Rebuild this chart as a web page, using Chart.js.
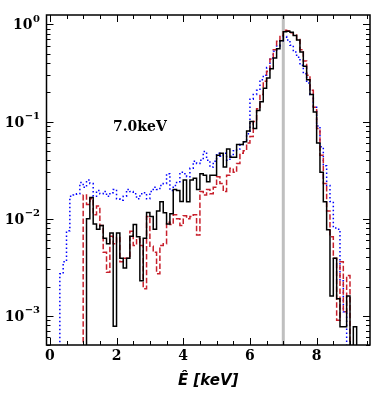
<!DOCTYPE html>
<html><head><meta charset="utf-8">
<script src="https://cdn.jsdelivr.net/npm/chart.js@4.4.0/dist/chart.umd.min.js"></script>
<style>html,body{margin:0;padding:0;background:#fff;}#wrap{width:382px;height:396px;}</style>
</head><body><div id="wrap"><canvas id="c" width="382" height="396"></canvas></div>
<script>
// histogram bins: first bin starts at binStart, each binWidth wide (keV)
const binStart = 0.0;
const binWidth = 0.1;

// black solid histogram, bins 0.0 .. 9.4 keV
const blackVals = [
  0,0,0,0,0,0,0,0,0,0,0,
  0.0100,0.0165,0.0088,0.0078,0.0085,0.0063,0.0055,0.0071,0.00078,
  0.0071,0.0039,0.0031,0.0039,0.0066,0.0087,0.0065,0.0023,0.0063,0.0116,
  0.0105,0.0078,0.0120,0.0149,0.0115,0.0088,0.0112,0.0200,0.0195,0.0150,
  0.0250,0.0149,0.0250,0.0260,0.0200,0.0290,0.0280,0.0240,0.0280,0.0280,
  0.0450,0.0470,0.0340,0.0520,0.0430,0.0430,0.0580,0.0580,0.0620,0.0800,
  0.1000,0.0850,0.1300,0.1600,0.2200,0.2800,0.3500,0.4500,0.5600,0.6800,
  0.8400,0.8500,0.8300,0.7700,0.6900,0.5200,0.3700,0.2700,0.1900,0.1250,
  0.0600,0.0300,0.0149,0.0077,0.0016,0.0039,0.0015,0.00077,0.00077,0.0016,
  0,0.00077,0,0,0
];
// red dashed histogram
const redVals = [
  0,0,0,0,0,0,0,0,0,0,
  0.0175,0.0140,0.0160,0.0110,0.0135,0.0085,0.0045,0.0028,0.0066,0.0055,
  0.0064,0.0036,0.0039,0.0039,0.0074,0.0053,0.0062,0.0053,0.0019,0.0105,
  0.0052,0.0045,0.0027,0.0053,0.0055,0.0092,0.0087,0.0110,0.0100,0.0085,
  0.0107,0.0100,0.0105,0.0110,0.0068,0.0190,0.0175,0.0200,0.0180,0.0210,
  0.0270,0.0230,0.0190,0.0280,0.0330,0.0300,0.0370,0.0470,0.0500,0.0600,
  0.0700,0.1000,0.1350,0.1900,0.2600,0.3300,0.4400,0.5500,0.6700,0.7700,
  0.8700,0.8600,0.8200,0.7800,0.7000,0.5500,0.4200,0.3000,0.2100,0.1400,
  0.0850,0.0450,0.0230,0.0120,0.0065,0.0039,0.0009,0.0036,0.0011,0.0026,
  0,0,0,0,0
];
// blue dotted histogram
const blueVals = [
  0,0,0,
  0.0027,0.0036,0.0075,0.0170,0.0175,0.0180,0.0235,
  0.0210,0.0250,0.0230,0.0170,0.0195,0.0180,0.0190,0.0170,0.0185,0.0200,
  0.0160,0.0155,0.0170,0.0200,0.0190,0.0180,0.0160,0.0180,0.0185,0.0160,
  0.0190,0.0210,0.0200,0.0220,0.0230,0.0290,0.0195,0.0220,0.0240,0.0300,
  0.0290,0.0270,0.0330,0.0390,0.0370,0.0400,0.0490,0.0400,0.0340,0.0390,
  0.0470,0.0440,0.0470,0.0400,0.0440,0.0500,0.0520,0.0580,0.0620,0.0750,
  0.1700,0.1900,0.2100,0.2700,0.3000,0.3600,0.4500,0.5300,0.6000,0.6800,
  0.7500,0.6900,0.6100,0.5200,0.4600,0.3800,0.3100,0.2500,0.1900,0.1400,
  0.0900,0.0550,0.0350,0.0220,0.0150,0.0080,0.0078,0.0023,0.0011,0,
  0,0,0,0,0
];

const xTickValues = [0, 2, 4, 6, 8];
const xTickLabels = ['0', '2', '4', '6', '8'];
const yDecades = [1, 0.1, 0.01, 0.001];
const yExponents = ['0', '\u22121', '\u22122', '\u22123'];
const lineEnergy = 7.0;
const annotationText = '7.0keV';
const annotationAt = {x: 2.7, y: 0.088};
const xTitle = '\u00CA [keV]';

function toSteps(vals) {
  const floor = 1e-7;
  const pts = vals.map((v, i) => ({x: binStart + i * binWidth, y: v > 0 ? v : floor}));
  pts.push({x: binStart + vals.length * binWidth, y: floor});
  return pts;
}

const framePlugin = {
  id: 'frame',
  beforeDatasetsDraw(chart) {
    const {ctx, chartArea: a, scales: {x}} = chart;
    const px = x.getPixelForValue(lineEnergy);
    ctx.save();
    ctx.strokeStyle = '#bfbfbf';
    ctx.lineWidth = 3;
    ctx.beginPath(); ctx.moveTo(px, a.top); ctx.lineTo(px, a.bottom); ctx.stroke();
    ctx.restore();
  },
  afterDatasetsDraw(chart) {
    const {ctx, scales: {x, y}} = chart;
    ctx.save();
    ctx.fillStyle = '#000';
    ctx.font = 'bold 14px "DejaVu Serif"';
    ctx.textAlign = 'center';
    ctx.textBaseline = 'middle';
    ctx.fillText(annotationText, x.getPixelForValue(annotationAt.x), y.getPixelForValue(annotationAt.y));
    ctx.restore();
  },
  afterDraw(chart) {
    const {ctx, chartArea: a, scales: {x, y}} = chart;
    ctx.save();
    ctx.strokeStyle = '#000';
    // ticks
    ctx.lineWidth = 1;
    const majL = 7, minL = 4;
    ctx.beginPath();
    for (let t = 0; t <= 9.5 + 1e-9; t += 0.5) {
      const v = Math.round(t * 10) / 10;
      const px = Math.round(x.getPixelForValue(v)) + 0.5;
      const L = xTickValues.includes(v) ? majL : minL;
      ctx.moveTo(px, a.bottom); ctx.lineTo(px, a.bottom - L);
      ctx.moveTo(px, a.top); ctx.lineTo(px, a.top + L);
    }
    for (let e = -4; e <= 0; e++) {
      for (let m = 1; m <= 9; m++) {
        const v = m * Math.pow(10, e);
        if (v < y.min - 1e-12 || v > y.max) continue;
        const py = Math.round(y.getPixelForValue(v)) + 0.5;
        const L = m === 1 ? majL : minL;
        ctx.moveTo(a.left, py); ctx.lineTo(a.left + L, py);
        ctx.moveTo(a.right, py); ctx.lineTo(a.right - L, py);
      }
    }
    ctx.stroke();
    // frame
    ctx.lineWidth = 1.5;
    ctx.strokeRect(a.left, a.top, a.right - a.left, a.bottom - a.top);
    // y tick labels 10^n
    ctx.fillStyle = '#000';
    ctx.textBaseline = 'alphabetic';
    ctx.textAlign = 'left';
    const rightEdge = a.left - 7;
    yDecades.forEach((v, i) => {
      const py = y.getPixelForValue(v);
      ctx.font = 'bold 14px "DejaVu Serif"';
      const wb = ctx.measureText('10').width;
      ctx.font = 'bold 10px "DejaVu Serif"';
      const we = ctx.measureText(yExponents[i]).width;
      const x0 = rightEdge - wb - we;
      ctx.font = 'bold 14px "DejaVu Serif"';
      ctx.fillText('10', x0, py + 5);
      ctx.font = 'bold 10px "DejaVu Serif"';
      ctx.fillText(yExponents[i], x0 + wb + 0.5, py - 2.5);
    });
    ctx.restore();
  }
};

new Chart(document.getElementById('c'), {
  type: 'line',
  data: {
    datasets: [
      {data: toSteps(blackVals), borderColor: '#000000', borderWidth: 1.5, stepped: true, pointRadius: 0, fill: false, order: 1},
      {data: toSteps(redVals), borderColor: '#c8202c', borderWidth: 1.5, borderDash: [5.5, 2.4], stepped: true, pointRadius: 0, fill: false, order: 2},
      {data: toSteps(blueVals), borderColor: '#0000ff', borderWidth: 1.5, borderDash: [1.5, 2.5], stepped: true, pointRadius: 0, fill: false, order: 3}
    ]
  },
  options: {
    responsive: false,
    animation: false,
    devicePixelRatio: 1,
    layout: {padding: {left: 0, right: 12, top: 15, bottom: 0}},
    plugins: {legend: {display: false}, tooltip: {enabled: false}},
    scales: {
      x: {
        type: 'linear', position: 'bottom', min: -0.1, max: 9.6,
        grid: {display: false, drawTicks: false},
        border: {display: false},
        afterBuildTicks: (s) => { s.ticks = xTickValues.map(v => ({value: v})); },
        ticks: {
          callback: (v) => xTickLabels[xTickValues.indexOf(v)] ?? '',
          font: {family: 'DejaVu Serif', weight: 'bold', size: 14},
          color: '#000', padding: 3, maxRotation: 0, autoSkip: false
        },
        title: {display: true, text: xTitle, color: '#000',
          font: {family: 'DejaVu Sans', weight: 'bold', style: 'italic', size: 15},
          padding: {top: 0, bottom: 6}},
        afterFit: (s) => { s.height = 51; }
      },
      y: {
        type: 'logarithmic', min: 5e-4, max: 1.25,
        grid: {display: false, drawTicks: false},
        border: {display: false},
        ticks: {display: false},
        afterFit: (s) => { s.width = 46.5; }
      }
    }
  },
  plugins: [framePlugin]
});
</script>
</body></html>
